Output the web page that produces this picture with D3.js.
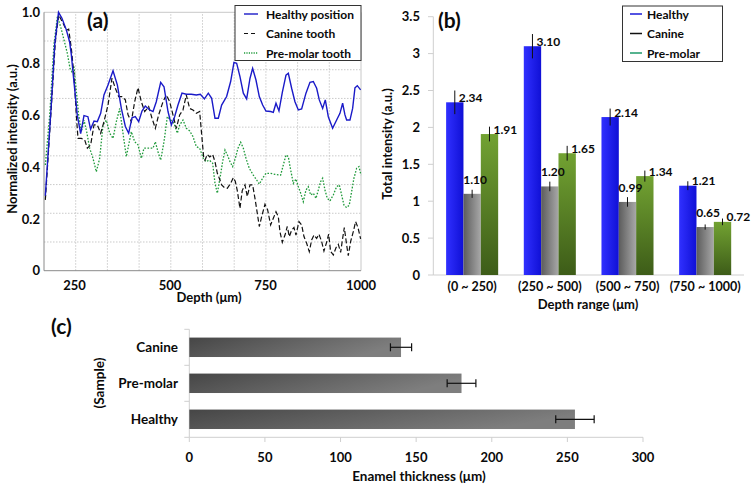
<!DOCTYPE html>
<html><head><meta charset="utf-8">
<script src="https://cdn.jsdelivr.net/npm/d3@7"></script>
<style>
body{margin:0;background:#fff}
svg{display:block}
text{font-family:Lato,'Open Sans',sans-serif;font-weight:bold;fill:#0a0a0a}
</style></head>
<body><svg id="chart" width="752" height="488"></svg>
<script>
// ---------- Panel (a) data: depth (µm), normalized intensity ----------
const healthyPosition = [[173.5,0.29],[189,0.64],[198,0.874],[208,1.0],[217,0.977],[228.5,0.932],[237,0.886],[241.6,0.835],[248.5,0.73],[257.3,0.60],[266,0.53],[274.7,0.60],[285,0.596],[292,0.548],[301,0.579],[309.6,0.577],[318.4,0.609],[327,0.68],[337.6,0.719],[350.7,0.774],[362,0.719],[372.5,0.628],[383,0.558],[391.7,0.532],[400.4,0.592],[409,0.596],[417.9,0.577],[426.6,0.618],[435.3,0.637],[446.7,0.622],[455.4,0.616],[464,0.654],[475.5,0.729],[484.2,0.712],[494.7,0.616],[503.4,0.564],[512,0.596],[520.8,0.641],[531.3,0.687],[542.6,0.683],[555.7,0.683],[568.8,0.68],[579.3,0.683],[590,0.665],[600.2,0.687],[609,0.667],[617.7,0.59],[626.4,0.59],[635.1,0.641],[648.2,0.674],[658.7,0.732],[667.4,0.806],[674.4,0.803],[683.1,0.751],[691.9,0.687],[700.6,0.665],[709.3,0.744],[716.3,0.783],[725,0.738],[733.7,0.674],[742.5,0.641],[751.2,0.618],[763.4,0.616],[770.4,0.613],[777.4,0.648],[785.2,0.618],[794,0.69],[803.6,0.757],[809.7,0.764],[818.4,0.706],[827.1,0.654],[835.9,0.622],[844.6,0.626],[855.9,0.687],[866.4,0.729],[875.1,0.732],[883.9,0.706],[890.8,0.661],[899.6,0.628],[906.5,0.661],[914.4,0.596],[925.7,0.551],[936.2,0.583],[944.9,0.609],[951.9,0.648],[958,0.603],[962.4,0.583],[971.1,0.583],[978.1,0.628],[984.2,0.708],[990.3,0.716],[999,0.70]];
const canineTooth = [[173.5,0.274],[189,0.628],[199.7,0.887],[208.4,0.99],[215.4,0.97],[222.4,0.95],[228.5,0.93],[234.6,0.935],[241.6,0.86],[248.5,0.757],[254.7,0.60],[259,0.512],[267.8,0.512],[276.5,0.506],[283.5,0.474],[292.2,0.487],[300.9,0.564],[309.6,0.564],[318.4,0.532],[327,0.577],[337.6,0.641],[348,0.745],[356.8,0.706],[365.5,0.674],[374.2,0.674],[383,0.661],[390,0.603],[398.7,0.577],[407.4,0.654],[416.1,0.708],[424.8,0.654],[433.6,0.616],[444,0.635],[452.8,0.59],[461.5,0.551],[470.2,0.603],[481.6,0.654],[490.3,0.68],[499,0.654],[507.7,0.603],[516.5,0.551],[525.2,0.603],[533.9,0.622],[542.6,0.68],[551.4,0.628],[560.1,0.622],[568.8,0.609],[577.6,0.616],[583.7,0.512],[588,0.44],[591.5,0.428],[597.6,0.45],[604,0.44],[611.6,0.45],[617.7,0.422],[623.8,0.377],[629,0.358],[635.1,0.332],[642,0.322],[650,0.319],[658.7,0.338],[665.7,0.36],[671,0.345],[676.1,0.31],[683.1,0.241],[689,0.31],[696.2,0.332],[702.3,0.287],[709.3,0.332],[716.3,0.332],[722.4,0.28],[728.5,0.222],[733.7,0.171],[739.9,0.209],[748.6,0.257],[755.6,0.235],[763.4,0.177],[770.4,0.203],[777.4,0.228],[783.5,0.209],[787.8,0.151],[794,0.11],[801,0.138],[807,0.171],[812.3,0.132],[818.4,0.157],[824.5,0.167],[829.7,0.138],[837.6,0.19],[844.6,0.177],[850.7,0.132],[857.7,0.106],[864.6,0.074],[870.8,0.119],[876.9,0.138],[883.9,0.125],[890,0.141],[896.9,0.113],[903,0.076],[910,0.11],[915.3,0.141],[920.5,0.074],[927.5,0.061],[934.5,0.089],[940.6,0.102],[946.7,0.071],[951.9,0.125],[956.3,0.167],[962.4,0.1],[966.7,0.058],[972.9,0.113],[979.8,0.151],[985.9,0.19],[992.1,0.167],[999,0.123]];
const preMolarTooth = [[173.5,0.409],[185,0.603],[196,0.874],[205,0.983],[213.6,0.944],[222.4,0.893],[231.1,0.841],[238.1,0.783],[243,0.77],[248.5,0.79],[254.7,0.693],[260.8,0.603],[267.8,0.538],[274.7,0.583],[281.7,0.538],[289.6,0.474],[298.3,0.435],[307,0.383],[315.8,0.435],[324.5,0.564],[333.2,0.583],[342,0.532],[350.7,0.512],[359.4,0.577],[368.1,0.628],[376.8,0.532],[385.6,0.441],[391.7,0.487],[398.7,0.538],[407.4,0.499],[416.1,0.487],[424.8,0.435],[431.8,0.474],[442.3,0.474],[455.4,0.474],[461.5,0.499],[468.5,0.46],[475.5,0.428],[484.2,0.499],[492.9,0.596],[501.6,0.583],[510.4,0.57],[519.1,0.532],[525.2,0.564],[533.9,0.583],[542.6,0.551],[551.4,0.541],[560.1,0.519],[568.8,0.48],[577.6,0.474],[587.1,0.435],[594.1,0.422],[602.8,0.428],[611.6,0.416],[617.7,0.338],[623.8,0.30],[630.8,0.358],[637.7,0.422],[643.9,0.467],[650,0.448],[656.9,0.422],[663.9,0.403],[670.9,0.435],[677.9,0.474],[684.9,0.497],[691.9,0.474],[698.8,0.435],[707.6,0.396],[718,0.37],[726.8,0.351],[733.7,0.335],[742.5,0.358],[751.2,0.377],[761.7,0.377],[774.8,0.373],[789.6,0.37],[796.6,0.409],[803.6,0.448],[809.7,0.441],[815.8,0.39],[822.8,0.338],[829.7,0.355],[835.9,0.325],[842,0.30],[848.9,0.267],[855.9,0.312],[862,0.325],[868.1,0.293],[875.1,0.30],[882.1,0.28],[888.2,0.312],[894.3,0.345],[899.6,0.358],[905.7,0.312],[911.8,0.28],[918.7,0.27],[927.5,0.293],[936.2,0.325],[943.2,0.332],[949.3,0.293],[955.4,0.254],[962.4,0.244],[969.3,0.254],[975.4,0.306],[981.5,0.358],[988.5,0.396],[994.6,0.403],[1000,0.37]];
const lineSeriesNames = ["Healthy position","Canine tooth","Pre-molar tooth"];
const depthTicks = [250,500,750,1000];
const intensityTicks = [0,0.2,0.4,0.6,0.8,1.0];

// ---------- Panel (b) data ----------
const depthRanges = ["(0 ~ 250)","(250 ~ 500)","(500 ~ 750)","(750 ~ 1000)"];
const barSeriesNames = ["Healthy","Canine","Pre-molar"];
const healthyTotal = [2.34,3.10,2.14,1.21];
const canineTotal = [1.10,1.20,0.99,0.65];
const preMolarTotal = [1.91,1.65,1.34,0.72];
const healthyErr = [0.16,0.165,0.115,0.06];
const canineErr = [0.055,0.065,0.065,0.035];
const preMolarErr = [0.10,0.10,0.075,0.045];
const totalTicks = [0,0.5,1,1.5,2,2.5,3,3.5];

// ---------- Panel (c) data ----------
const samples = ["Canine","Pre-molar","Healthy"];
const enamelThickness = [140,180,255];
const enamelErr = [7,9.5,12.7];
const thicknessTicks = [0,50,100,150,200,250,300];

const svg = d3.select("#chart");
const defs = svg.append("defs");
function grad(id, x2, y2, c1, c2){
  const g = defs.append("linearGradient").attr("id",id).attr("x1",0).attr("y1",0).attr("x2",x2).attr("y2",y2);
  g.append("stop").attr("offset","0%").attr("stop-color",c1);
  g.append("stop").attr("offset","100%").attr("stop-color",c2);
}
grad("gBlue",1,0,"#3030ff","#1010d6");
grad("gGray",1,0,"#5c5c5c","#a8a8a8");
grad("gGreen",0,1,"#72a232","#3d5c18");
grad("gBar",1,0.3,"#464646","#7e7e7e");

// ================= Panel (a) =================
{
  const x = d3.scaleLinear().domain([170,1000]).range([44,361]);
  const y = d3.scaleLinear().domain([0,1]).range([270.7,12.3]);
  const g = svg.append("g");
  const xd = x.domain();
  const gx = d3.range(1,10).map(i => xd[0] + i*(xd[1]-xd[0])/10);
  const gy = d3.range(1,9).map(i => i/9);
  g.selectAll(".gx").data(gx).join("line")
    .attr("x1",d=>x(d)).attr("x2",d=>x(d)).attr("y1",y(0)).attr("y2",y(1))
    .attr("stroke","#bdbdbd").attr("stroke-width",0.8).attr("stroke-dasharray","1.5,1.5");
  g.selectAll(".gy").data(gy).join("line")
    .attr("x1",x(xd[0])).attr("x2",x(xd[1])).attr("y1",d=>y(d)).attr("y2",d=>y(d))
    .attr("stroke","#bdbdbd").attr("stroke-width",0.8).attr("stroke-dasharray","1.5,1.5");
  g.append("line").attr("x1",x(xd[0])).attr("x2",x(xd[1])).attr("y1",y(1)).attr("y2",y(1)).attr("stroke","#c8c8c8");
  g.append("line").attr("x1",x(xd[1])).attr("x2",x(xd[1])).attr("y1",y(0)).attr("y2",y(1)).attr("stroke","#c8c8c8");
  g.append("line").attr("x1",x(xd[0])).attr("x2",x(xd[0])).attr("y1",y(0)).attr("y2",y(1)).attr("stroke","#8a8a8a");
  g.append("line").attr("x1",x(xd[0])).attr("x2",x(xd[1])).attr("y1",y(0)).attr("y2",y(0)).attr("stroke","#8a8a8a");

  const line = d3.line().x(d=>x(d[0])).y(d=>y(d[1]));
  const styles = [
    {data:preMolarTooth,color:"#1f9a3a",dash:"1.6,1.6",w:1.3},
    {data:canineTooth,color:"#111",dash:"5,2.5",w:1.2},
    {data:healthyPosition,color:"#1a1ac8",dash:null,w:1.4}
  ];
  styles.forEach(s=>{
    g.append("path").datum(s.data).attr("d",line).attr("fill","none")
      .attr("stroke",s.color).attr("stroke-width",s.w).attr("stroke-dasharray",s.dash);
  });

  g.selectAll(".xt").data(depthTicks).join("text").attr("x",d=>x(d)).attr("y",290)
    .attr("text-anchor","middle").attr("font-size",13).text(d=>d);
  g.selectAll(".yt").data(intensityTicks).join("text").attr("x",40).attr("y",d=>y(d)+4.5)
    .attr("text-anchor","end").attr("font-size",13).text(d=>d===0?"0":d.toFixed(1));
  g.append("text").attr("x",209).attr("y",302).attr("text-anchor","middle").attr("font-size",13).text("Depth (μm)");
  g.append("text").attr("transform","translate(17,139) rotate(-90)").attr("text-anchor","middle").attr("font-size",13)
    .text("Normalized intensity (a.u.)");
  g.append("text").attr("x",87).attr("y",28).attr("font-size",21).text("(a)");

  const lg = g.append("g");
  lg.append("rect").attr("x",235).attr("y",5.5).attr("width",126).attr("height",55).attr("fill","#fff").attr("stroke","#333").attr("stroke-width",1);
  const legStyles = [styles[2],styles[1],styles[0]];
  lineSeriesNames.forEach((n,i)=>{
    const yy = 14 + i*19.5;
    lg.append("line").attr("x1",244).attr("x2",258).attr("y1",yy).attr("y2",yy)
      .attr("stroke",legStyles[i].color).attr("stroke-width",legStyles[i].w).attr("stroke-dasharray",legStyles[i].dash ? (i===1?"4,3":"1.2,1.2") : null);
    lg.append("text").attr("x",266).attr("y",yy+4.5).attr("font-size",12).text(n);
  });
}

// ================= Panel (b) =================
{
  const x0 = d3.scaleBand().domain(depthRanges).range([433.3,744]).paddingInner(0.33).paddingOuter(0.165);
  const x1 = d3.scaleBand().domain(barSeriesNames).range([0,x0.bandwidth()]);
  const y = d3.scaleLinear().domain([0,3.5]).range([275,16.7]);
  const g = svg.append("g");
  g.append("line").attr("x1",433.3).attr("x2",433.3).attr("y1",y(0)).attr("y2",y(3.5)).attr("stroke","#cfcfcf");
  g.append("line").attr("x1",433.3).attr("x2",744).attr("y1",y(0)).attr("y2",y(0)).attr("stroke","#cfcfcf");
  g.selectAll(".tk").data(totalTicks).join("line").attr("x1",428).attr("x2",433.3).attr("y1",d=>y(d)).attr("y2",d=>y(d)).attr("stroke","#cfcfcf");
  g.selectAll(".yt").data(totalTicks).join("text").attr("x",420).attr("y",d=>y(d)+4.5)
    .attr("text-anchor","end").attr("font-size",13).text(d=>d);

  const series = [
    {name:"Healthy",vals:healthyTotal,err:healthyErr,fill:"url(#gBlue)",labelMode:"right"},
    {name:"Canine",vals:canineTotal,err:canineErr,fill:"url(#gGray)",labelMode:"above"},
    {name:"Pre-molar",vals:preMolarTotal,err:preMolarErr,fill:"url(#gGreen)",labelMode:"right"}
  ];
  const barsG = g.append("g"), errG = g.append("g"), labG = g.append("g");
  series.forEach(s=>{
    depthRanges.forEach((c,i)=>{
      const bx = x0(c)+x1(s.name), bw = x1.bandwidth(), v = s.vals[i];
      barsG.append("rect").attr("x",bx).attr("y",y(v)).attr("width",bw).attr("height",y(0)-y(v)).attr("fill",s.fill);
      const cx = bx + bw/2;
      errG.append("line").attr("x1",cx).attr("x2",cx).attr("y1",y(v+s.err[i])).attr("y2",y(v-s.err[i]))
        .attr("stroke","#111").attr("stroke-width",1);
      if(s.labelMode==="right"){
        labG.append("text").attr("x",cx+4).attr("y",y(v)-0.5).attr("font-size",12).text(v.toFixed(2));
      } else {
        labG.append("text").attr("x",cx+3).attr("y",y(v)-10).attr("text-anchor","middle").attr("font-size",12).text(v.toFixed(2));
      }
    });
  });
  g.selectAll(".xt").data(depthRanges).join("text").attr("x",d=>x0(d)+x0.bandwidth()/2).attr("y",291)
    .attr("text-anchor","middle").attr("font-size",12.5).text(d=>d);
  g.append("text").attr("x",588).attr("y",309).attr("text-anchor","middle").attr("font-size",13).text("Depth range (μm)");
  g.append("text").attr("transform","translate(392,144) rotate(-90)").attr("text-anchor","middle").attr("font-size",13)
    .text("Total intensity (a.u.)");
  g.append("text").attr("x",438).attr("y",28).attr("font-size",21).text("(b)");

  const lg = g.append("g");
  lg.append("rect").attr("x",622.5).attr("y",6).attr("width",100).attr("height",55.5).attr("fill","#fff").attr("stroke","#333");
  const lc = ["#1a1ad8","#111","#1e9a6a"];
  barSeriesNames.forEach((n,i)=>{
    const yy = 14 + i*19.5;
    lg.append("line").attr("x1",630).attr("x2",642).attr("y1",yy).attr("y2",yy).attr("stroke",lc[i]).attr("stroke-width",1.5);
    lg.append("text").attr("x",647).attr("y",yy+4.5).attr("font-size",12).text(n);
  });
}

// ================= Panel (c) =================
{
  const x = d3.scaleLinear().domain([0,300]).range([189.3,643]);
  const y = d3.scaleBand().domain(samples).range([329.3,437.3]).paddingInner(0.46).paddingOuter(0.23);
  const g = svg.append("g");
  g.append("line").attr("x1",x(0)).attr("x2",x(0)).attr("y1",329.3).attr("y2",437.3).attr("stroke","#cfcfcf");
  g.append("line").attr("x1",x(0)).attr("x2",x(300)).attr("y1",437.3).attr("y2",437.3).attr("stroke","#cfcfcf");
  const step = y.step();
  g.selectAll(".ytk").data(d3.range(samples.length+1)).join("line")
    .attr("x1",x(0)-5).attr("x2",x(0)).attr("y1",d=>329.3+d*step).attr("y2",d=>329.3+d*step).attr("stroke","#cfcfcf");
  g.selectAll(".xtk").data(thicknessTicks).join("line")
    .attr("x1",d=>x(d)).attr("x2",d=>x(d)).attr("y1",437.3).attr("y2",442).attr("stroke","#cfcfcf");
  g.selectAll(".xt").data(thicknessTicks).join("text").attr("x",d=>x(d)).attr("y",461.5)
    .attr("text-anchor","middle").attr("font-size",13).text(d=>d);
  samples.forEach((s,i)=>{
    const v = enamelThickness[i], e = enamelErr[i];
    g.append("rect").attr("x",x(0)).attr("y",y(s)).attr("width",x(v)-x(0)).attr("height",y.bandwidth()).attr("fill","url(#gBar)");
    const cy = y(s)+y.bandwidth()/2;
    g.append("line").attr("x1",x(v-e)).attr("x2",x(v+e)).attr("y1",cy).attr("y2",cy).attr("stroke","#111").attr("stroke-width",1.2);
    [v-e,v+e].forEach(t=>g.append("line").attr("x1",x(t)).attr("x2",x(t)).attr("y1",cy-4).attr("y2",cy+4).attr("stroke","#111").attr("stroke-width",1.2));
    g.append("text").attr("x",178).attr("y",cy+4.5).attr("text-anchor","end").attr("font-size",13.5).text(s);
  });
  g.append("text").attr("x",419).attr("y",480.5).attr("text-anchor","middle").attr("font-size",13.5).text("Enamel thickness (μm)");
  g.append("text").attr("transform","translate(104,383) rotate(-90)").attr("text-anchor","middle").attr("font-size",13.5).text("(Sample)");
  g.append("text").attr("x",51).attr("y",334).attr("font-size",21).text("(c)");
}
</script></body></html>
